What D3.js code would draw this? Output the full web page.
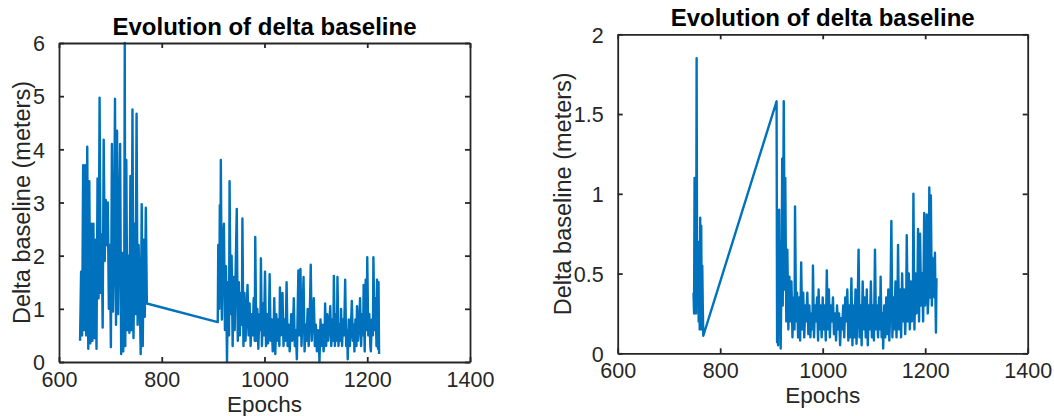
<!DOCTYPE html>
<html>
<head>
<meta charset="utf-8">
<script src="https://cdn.jsdelivr.net/npm/d3@7"></script>
<style>
  html, body { margin: 0; padding: 0; background: #fff; }
  svg { display: block; font-family: "Liberation Sans", Arial, Helvetica, sans-serif; }
</style>
</head>
<body>
<svg id="chart" width="1054" height="416"></svg>
<script>
// ---------------- DATA ----------------
const titleText = "Evolution of delta baseline";
const xLabelText = "Epochs";
const yLabelText = "Delta baseline (meters)";

const xTicks = [600, 800, 1000, 1200, 1400];
const leftYTicks = [0, 1, 2, 3, 4, 5, 6];
const rightYTicks = [0, 0.5, 1, 1.5, 2];
const leftYLabels = ["0", "1", "2", "3", "4", "5", "6"];
const rightYLabels = ["0", "0.5", "1", "1.5", "2"];

// [epoch, delta baseline (m)] — left panel
const leftData = [
  [641,0.4],[643,1.7],[645,0.5],[647,3.7],[649,0.6],[651,3.7],[653,0.5],[655,4.05],[657,0.25],[659,3.4],
  [661,0.35],[663,2.6],[665,0.4],[667,2.6],[669,0.45],[671,2.3],[673,0.25],[675,3.45],[677,1.2],[679,4.97],
  [681,1.3],[683,2.4],[685,0.65],[687,4.18],[689,1.9],[691,3.05],[693,2.2],[695,3.0],[697,1.0],[699,2.2],
  [701,0.28],[703,4.1],[705,0.95],[707,2.0],[709,4.95],[711,0.7],[713,4.35],[715,0.9],[717,2.5],[719,4.1],
  [721,0.15],[723,2.05],[725,0.2],[727,1.7],[728,6.0],[729,0.3],[731,3.8],[733,0.6],[735,2.0],[737,0.55],
  [739,3.5],[741,0.6],[743,4.75],[745,0.45],[747,2.6],[749,0.9],[751,4.67],[753,0.7],[755,2.2],[757,1.3],
  [759,0.15],[761,2.97],[763,0.3],[765,2.3],[767,0.85],[769,2.9],[771,1.1],
  [909,0.75],[910,2.2],[912,1.0],[913,2.95],[914,1.3],[915,3.8],[917,0.8],[919,2.2],[921,2.6],[923,0.6],
  [925,1.8],[927,0.0],[929,1.5],[931,0.5],[932,3.4],[934,0.9],[936,2.0],[938,0.3],[940,1.6],[942,0.6],
  [944,1.8],[946,2.88],[948,0.4],[950,1.5],[952,0.5],[954,1.3],[956,0.7],[957,2.7],[959,0.3],[961,1.3],
  [963,0.4],[965,0.9],[967,1.45],[969,0.5],[971,1.1],[973,0.3],[975,0.9],[977,0.5],[979,1.2],[981,0.4],
  [982,2.35],[984,0.4],[986,1.0],[988,0.25],[990,0.9],[992,0.6],[993,1.95],[995,0.3],[997,1.1],[999,0.5],
  [1001,1.7],[1003,0.3],[1005,0.9],[1007,0.35],[1009,1.0],[1010,1.65],[1012,0.4],[1014,0.8],[1016,0.2],[1018,0.7],
  [1019,1.2],[1021,0.15],[1023,0.9],[1025,0.4],[1027,0.8],[1029,0.3],[1030,1.4],[1032,0.5],[1034,0.9],[1035,1.3],
  [1037,0.3],[1039,0.8],[1041,0.4],[1043,1.5],[1045,0.3],[1047,0.7],[1049,0.2],[1051,0.6],[1052,0.9],[1054,0.4],
  [1056,0.8],[1057,1.2],[1059,0.3],[1061,0.6],[1063,0.05],[1065,1.2],[1066,1.72],[1068,0.5],[1070,1.75],[1072,0.3],
  [1074,0.9],[1076,1.6],[1078,0.2],[1080,0.7],[1082,0.4],[1084,1.0],[1086,0.3],[1088,0.8],[1090,1.83],[1092,0.4],
  [1094,0.9],[1096,1.2],[1098,0.3],[1100,0.7],[1102,0.2],[1104,0.6],[1106,0.3],[1107,0.0],[1109,0.8],[1111,0.3],
  [1113,0.7],[1115,0.2],[1117,0.5],[1118,1.1],[1120,0.3],[1122,0.9],[1124,0.4],[1126,0.7],[1128,1.05],[1130,0.3],
  [1132,0.8],[1134,0.4],[1135,1.62],[1137,0.3],[1139,0.9],[1141,0.4],[1142,1.6],[1144,0.3],[1146,0.7],[1148,0.4],
  [1149,1.0],[1151,0.3],[1153,0.8],[1155,0.5],[1157,1.55],[1159,0.3],[1161,0.6],[1162,0.05],[1164,0.8],[1166,0.3],
  [1168,0.6],[1170,1.15],[1172,0.4],[1174,0.7],[1175,0.2],[1177,0.8],[1179,0.3],[1180,1.05],[1182,0.4],[1184,0.7],
  [1186,1.2],[1188,0.3],[1190,0.9],[1192,0.5],[1193,1.45],[1195,0.2],[1197,1.55],[1199,0.6],[1200,1.97],[1202,0.5],
  [1204,0.9],[1206,0.3],[1207,0.2],[1209,0.8],[1211,0.5],[1212,1.97],[1214,0.6],[1216,1.2],[1218,0.3],[1219,1.55],
  [1221,0.25],[1222,1.5],[1223,0.15]
];

// [epoch, delta baseline (m)] — right panel
const rightData = [
  [748,0.38],[749,0.25],[750,1.1],[751,0.3],[752,0.75],[753,0.25],[754,1.85],[755,0.3],[756,0.55],[757,0.7],
  [758,0.2],[759,0.45],[760,0.15],[761,0.85],[762,0.2],[763,0.8],[764,0.15],[765,0.55],[766,0.3],[767,0.11],
  [910,1.58],[911,0.07],[912,0.85],[913,0.05],[915,0.9],[916,0.3],[917,0.7],[918,0.03],[920,0.6],[921,1.22],
  [922,0.3],[924,1.58],[926,0.4],[927,1.1],[929,0.2],[931,0.65],[933,0.15],[935,0.48],[937,0.2],[939,0.45],
  [941,0.1],[943,0.35],[945,0.15],[946,0.92],[948,0.2],[950,0.38],[952,0.1],[954,0.35],[956,0.08],[958,0.57],
  [960,0.15],[962,0.38],[964,0.1],[966,0.3],[968,0.2],[970,0.38],[972,0.12],[974,0.3],[976,0.1],[978,0.25],
  [980,0.15],[981,0.55],[983,0.1],[985,0.3],[987,0.2],[989,0.35],[991,0.08],[992,0.4],[994,0.15],[996,0.3],
  [998,0.1],[1000,0.35],[1002,0.15],[1004,0.3],[1006,0.08],[1008,0.52],[1010,0.15],[1012,0.4],[1014,0.1],[1016,0.3],
  [1018,0.2],[1020,0.35],[1022,0.12],[1024,0.25],[1026,0.08],[1028,0.3],[1030,0.15],[1032,0.25],[1034,0.05],[1036,0.22],
  [1038,0.15],[1040,0.3],[1042,0.1],[1044,0.35],[1046,0.2],[1048,0.4],[1050,0.08],[1052,0.3],[1054,0.1],[1056,0.47],
  [1058,0.05],[1060,0.3],[1062,0.1],[1064,0.4],[1066,0.06],[1068,0.25],[1070,0.65],[1072,0.1],[1074,0.3],[1076,0.05],
  [1078,0.45],[1080,0.15],[1082,0.35],[1084,0.1],[1086,0.4],[1088,0.05],[1090,0.3],[1092,0.15],[1094,0.45],[1096,0.1],
  [1098,0.3],[1100,0.08],[1102,0.65],[1104,0.15],[1106,0.3],[1108,0.1],[1110,0.35],[1112,0.15],[1113,0.48],[1115,0.1],
  [1117,0.25],[1118,0.03],[1120,0.3],[1122,0.1],[1124,0.35],[1126,0.12],[1128,0.4],[1130,0.08],[1132,0.3],[1134,0.83],
  [1136,0.1],[1138,0.35],[1140,0.15],[1142,0.45],[1144,0.1],[1146,0.35],[1147,0.68],[1149,0.15],[1151,0.4],[1153,0.1],
  [1155,0.5],[1157,0.2],[1159,0.4],[1161,0.12],[1163,0.35],[1164,0.74],[1166,0.2],[1168,0.5],[1170,0.15],[1172,0.45],
  [1174,0.2],[1176,0.35],[1177,1.0],[1179,0.15],[1181,0.5],[1183,0.25],[1185,0.45],[1186,0.78],[1188,0.2],[1190,0.75],
  [1192,0.3],[1194,0.5],[1196,0.2],[1198,0.88],[1200,0.3],[1202,0.55],[1203,0.87],[1205,0.25],[1207,0.4],[1208,1.04],
  [1210,0.35],[1211,0.99],[1213,0.3],[1214,0.6],[1216,0.5],[1218,0.35],[1219,0.63],[1220,0.35],[1221,0.13],[1222,0.47]
];

// ---------------- DRAWING ----------------
const svg = d3.select("#chart");
const AX = "#262626";
const LINE = "#0072BD";

function panel(cfg) {
  const { x0, x1, y0, y1, data, yMax, yTicks, yLabels, yLabelOffset, xLabelOffset } = cfg;
  const x = d3.scaleLinear().domain([600, 1400]).range([x0, x1]);
  const y = d3.scaleLinear().domain([0, yMax]).range([y1, y0]);
  const g = svg.append("g");

  g.append("path")
    .datum(data)
    .attr("fill", "none")
    .attr("stroke", LINE)
    .attr("stroke-width", 2.4)
    .attr("stroke-linejoin", "round")
    .attr("d", d3.line().x(d => x(d[0])).y(d => y(d[1])));

  const tl = 5;
  const bottom = g.append("g").attr("transform", `translate(0,${y1})`)
    .call(d3.axisBottom(x).tickValues(xTicks).tickFormat(d3.format("d")).tickSizeInner(-tl).tickSizeOuter(0));
  const top = g.append("g").attr("transform", `translate(0,${y0})`)
    .call(d3.axisTop(x).tickValues(xTicks).tickFormat("").tickSizeInner(-tl).tickSizeOuter(0));
  const left = g.append("g").attr("transform", `translate(${x0},0)`)
    .call(d3.axisLeft(y).tickValues(yTicks).tickFormat((d, i) => yLabels[i]).tickSizeInner(-tl).tickSizeOuter(0).tickPadding(tl + 9));
  const right = g.append("g").attr("transform", `translate(${x1},0)`)
    .call(d3.axisRight(y).tickValues(yTicks).tickFormat("").tickSizeInner(-tl).tickSizeOuter(0));

  [bottom, top, left, right].forEach(a => {
    a.select(".domain").attr("stroke", AX).attr("stroke-width", 1.8);
    a.selectAll(".tick line").attr("stroke", AX).attr("stroke-width", 1.8);
    a.selectAll(".tick text").attr("fill", AX).style("font-size", "21.5px");
  });
  bottom.selectAll(".tick text").attr("dy", null).attr("y", 25);
  left.selectAll(".tick text").attr("dy", "0.36em");

  g.append("text")
    .attr("x", (x0 + x1) / 2).attr("y", y0 - 8)
    .attr("text-anchor", "middle")
    .style("font-size", "24px").style("font-weight", "bold").attr("fill", "#000")
    .text(titleText);
  g.append("text")
    .attr("x", (x0 + x1) / 2).attr("y", y1 + xLabelOffset)
    .attr("text-anchor", "middle")
    .style("font-size", "22.5px").attr("fill", AX)
    .text(xLabelText);
  g.append("text")
    .attr("transform", `translate(${x0 - yLabelOffset},${(y0 + y1) / 2}) rotate(-90)`)
    .attr("text-anchor", "middle")
    .style("font-size", "23.5px").attr("fill", AX)
    .text(yLabelText);
}

panel({ x0: 59, x1: 470, y0: 43, y1: 362, data: leftData, yMax: 6, yTicks: leftYTicks, yLabels: leftYLabels, yLabelOffset: 29, xLabelOffset: 50 });
panel({ x0: 617.7, x1: 1027.7, y0: 34.3, y1: 353.3, data: rightData, yMax: 2, yTicks: rightYTicks, yLabels: rightYLabels, yLabelOffset: 47, xLabelOffset: 50 });
</script>
</body>
</html>
